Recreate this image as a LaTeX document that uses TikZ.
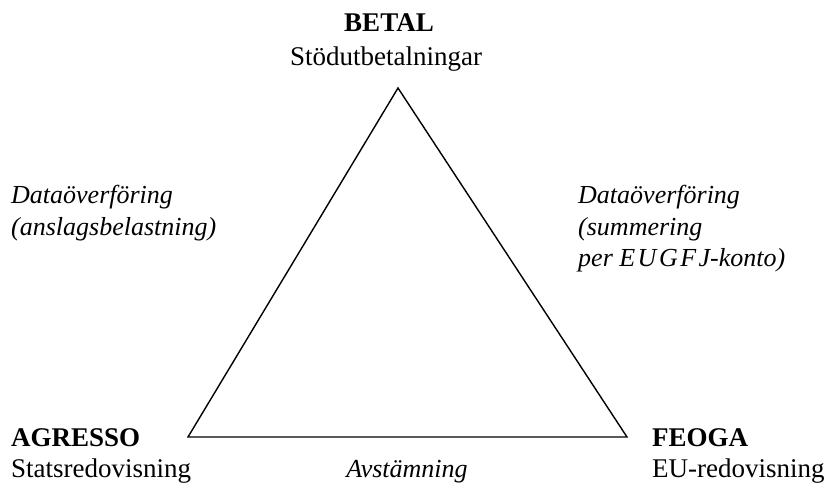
\documentclass[tikz,border=0pt]{standalone}
\usepackage{fontspec}
\setmainfont{Liberation Serif}
\begin{document}
\begin{tikzpicture}[x=1pt,y=-1pt,
  lbl/.style={inner sep=0pt,font=\fontsize{27}{31}\selectfont},
  lblb/.style={lbl,font=\fontsize{27}{31}\selectfont\bfseries},
  lbli/.style={lbl,font=\fontsize{26}{30}\selectfont\itshape},
  edge/.style={line width=1.4pt,line join=miter}]
\useasboundingbox (0,0) rectangle (838,491);
\coordinate (top) at (398,88);
\coordinate (left) at (188,437);
\coordinate (right) at (627,437);
\draw[edge] (top) -- (right) -- (left) -- cycle;
% top
\node[lblb,anchor=base] (betal) at (389,31) {BETAL};
\node[lbl,anchor=base] (betalsub) at (386,65) {Stödutbetalningar};
% left
\node[lblb,anchor=base west] (agr) at (11,446) {AGRESSO};
\node[lbl,anchor=base west] (agrsub) at (11,477) {Statsredovisning};
% right
\node[lblb,anchor=base west] (feoga) at (652,446) {FEOGA};
\node[lbl,anchor=base west] (feogasub) at (652,477) {EU-redovisning};
% bottom
\node[lbli,anchor=base] (avst) at (407,477) {Avstämning};
% left label
\node[lbli,anchor=base west] (l1) at (11,203) {Dataöverföring};
\node[lbli,anchor=base west] (l2) at (11,235) {(anslagsbelastning)};
% right label
\node[lbli,anchor=base west] (r1) at (578,203) {Dataöverföring};
\node[lbli,anchor=base west] (r2) at (578,235) {(summering};
\node[lbli,anchor=base west] (r3) at (578,266) {per E\kern2.5pt U\kern2.5pt G\kern2.5pt F\kern2.5pt J-konto)};
\end{tikzpicture}
\end{document}
